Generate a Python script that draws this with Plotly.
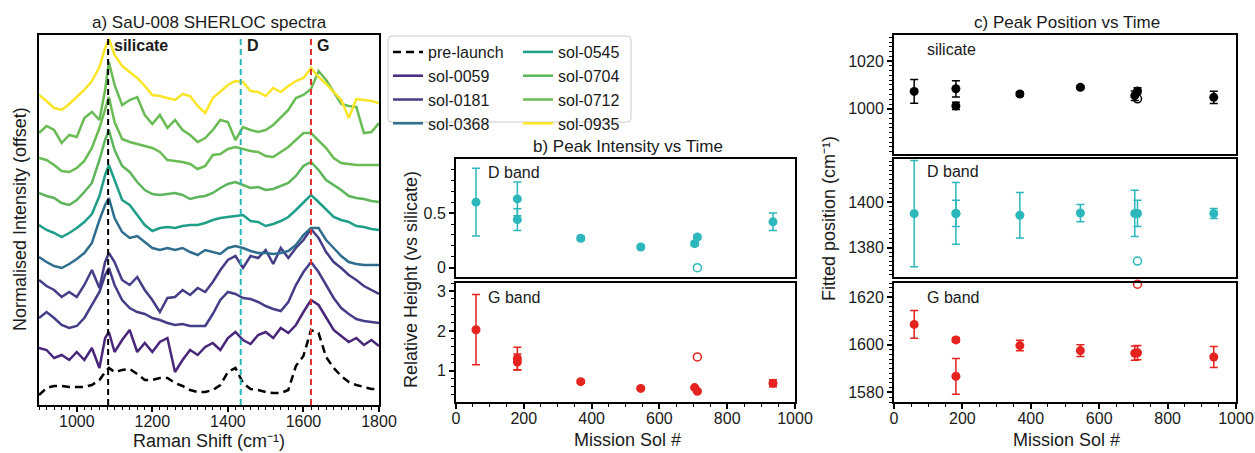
import plotly.graph_objects as go

W, H = 1255, 453

# ---------------- panel a: spectra (offset intensity, arbitrary units) ----------------
raman_shift = [900, 920, 940, 960, 980, 1000, 1020, 1040, 1060, 1075, 1085, 1100, 1120, 1140,
               1160, 1180, 1200, 1220, 1240, 1260, 1280, 1300, 1320, 1340, 1360, 1380, 1400,
               1420, 1440, 1460, 1480, 1500, 1520, 1540, 1560, 1580, 1600, 1620, 1640, 1660,
               1680, 1700, 1720, 1740, 1760, 1780, 1800]

pre_launch = [10, 17, 19, 19, 18, 18, 18, 20, 25, 33, 37, 33, 35, 36, 31, 25, 25, 27, 27, 22, 19, 15,
              13, 13, 15, 20, 33, 37, 22, 16, 15, 13, 12, 12, 15, 39, 49, 75, 72, 48, 37, 29, 23, 20,
              18, 16, 16]
sol_0059 = [57, 55, 47, 50, 45, 53, 45, 57, 37, 67, 73, 53, 65, 75, 53, 62, 53, 63, 67, 33, 45, 55,
            50, 58, 62, 55, 67, 73, 65, 61, 70, 73, 67, 77, 72, 80, 93, 105, 100, 87, 75, 69, 63, 67,
            60, 65, 59]
sol_0181_a = [87, 93, 87, 80, 77, 79, 87, 100, 113, 130, 137, 120, 105, 97, 93, 91, 87, 85, 82, 80,
              81, 79, 79, 79, 91, 105, 113, 111, 107, 106, 103, 99, 96, 94, 103, 120, 133, 143, 133,
              120, 107, 97, 91, 86, 84, 83, 82]
sol_0181_b = [125, 119, 115, 108, 113, 108, 120, 135, 117, 143, 152, 143, 125, 120, 128, 115, 105,
              93, 107, 108, 115, 110, 117, 113, 123, 135, 145, 149, 137, 149, 147, 155, 141, 157,
              147, 157, 165, 176, 167, 153, 143, 137, 130, 125, 119, 115, 111]
sol_0368 = [148, 143, 139, 137, 141, 146, 152, 162, 185, 200, 207, 187, 173, 167, 169, 163, 157, 155,
            157, 155, 157, 153, 150, 155, 153, 151, 157, 159, 157, 154, 152, 152, 151, 152, 154, 160,
            170, 177, 177, 165, 157, 149, 143, 141, 140, 140, 140]
sol_0545 = [180, 175, 172, 168, 172, 177, 183, 191, 209, 230, 240, 225, 205, 200, 190, 180, 174, 177,
            178, 177, 179, 180, 180, 182, 185, 187, 188, 189, 190, 184, 183, 179, 181, 184, 188, 195,
            202, 210, 203, 195, 188, 185, 183, 179, 178, 176, 175]
sol_0704 = [212, 209, 207, 202, 200, 205, 213, 222, 245, 265, 275, 255, 239, 233, 223, 215, 211, 210,
            211, 212, 210, 206, 208, 209, 212, 217, 221, 223, 220, 217, 218, 215, 216, 219, 222, 229,
            239, 243, 235, 225, 220, 215, 209, 207, 206, 204, 203]
sol_0712_a = [247, 245, 240, 234, 233, 237, 244, 257, 277, 295, 308, 283, 266, 263, 261, 259, 257,
              253, 245, 244, 243, 241, 236, 239, 250, 251, 256, 258, 256, 254, 253, 249, 248, 253,
              258, 265, 272, 272, 264, 257, 247, 242, 241, 240, 240, 240, 240]
sol_0712_b = [272, 279, 275, 262, 270, 268, 287, 293, 285, 315, 343, 320, 300, 305, 308, 290, 281,
              290, 277, 285, 275, 270, 263, 267, 275, 285, 283, 265, 278, 275, 273, 275, 280, 287,
              295, 307, 310, 316, 334, 325, 313, 301, 299, 298, 272, 273, 282]
sol_0935 = [310, 304, 297, 295, 301, 308, 315, 324, 338, 357, 366, 350, 339, 333, 327, 319, 310, 309,
            307, 305, 311, 309, 299, 292, 307, 314, 320, 324, 323, 314, 313, 309, 317, 313, 319, 324,
            327, 337, 328, 321, 313, 305, 287, 306, 305, 304, 302]

band_labels = ["silicate", "D", "G"]
band_centres = [1083, 1434, 1620]

# ---------------- panel b: peak intensity ----------------
intensity_sol = [59, 181, 181, 368, 545, 704, 712, 935]
d_height = [0.60, 0.63, 0.44, 0.27, 0.19, 0.22, 0.28, 0.42]
d_height_err = [0.31, 0.155, 0.10, 0.02, 0.015, 0.02, 0.02, 0.08]
g_height = [2.03, 1.31, 1.22, 0.73, 0.56, 0.58, 0.49, 0.69]
g_height_err = [0.88, 0.28, 0.20, 0.04, 0.03, 0.03, 0.03, 0.09]
open_sol = [712]
open_d_height = [0.0]
open_g_height = [1.35]

# ---------------- panel c: peak position ----------------
position_sol = [59, 181, 181, 368, 545, 704, 712, 935]
sil_pos = [1007.3, 1008.4, 1001.2, 1006.2, 1009.0, 1005.5, 1007.5, 1004.8]
sil_pos_err = [5.0, 3.4, 1.5, 0.8, 0.7, 2.0, 1.3, 2.6]
d_pos = [1394.9, 1395.0, 1395.0, 1394.2, 1395.2, 1395.0, 1395.0, 1395.0]
d_pos_err = [23.4, 13.6, 5.8, 10.0, 3.8, 10.2, 5.8, 2.2]
g_pos = [1608.6, 1602.1, 1586.8, 1599.7, 1597.6, 1596.5, 1596.7, 1594.9]
g_pos_err = [5.8, 1.0, 7.5, 2.2, 2.5, 3.0, 3.0, 4.4]
open_sil_pos = [1004.2]
open_d_pos = [1374.0]
open_g_pos = [1625.5]

# ---------------- styling ----------------
FONT = "Liberation Sans, Arial, sans-serif"
TXT = "#1a1a1a"
CYAN = "#2bb7bc"
RED = "#e5231f"


def fx(p):
    return p / W


def fy(p):
    return 1 - p / H


fig = go.Figure()

spectra = [
    ("pre-launch", pre_launch, "#000000", "legend", True, "8px,5px"),
    ("sol-0059", sol_0059, "#48277a", "legend", True, "solid"),
    ("sol-0181", sol_0181_a, "#443d87", "legend", True, "solid"),
    ("sol-0181", sol_0181_b, "#443d87", "legend", False, "solid"),
    ("sol-0368", sol_0368, "#2f6d8e", "legend", True, "solid"),
    ("sol-0545", sol_0545, "#1f9f88", "legend2", True, "solid"),
    ("sol-0704", sol_0704, "#5cb55a", "legend2", True, "solid"),
    ("sol-0712", sol_0712_a, "#69bb53", "legend2", True, "solid"),
    ("sol-0712", sol_0712_b, "#69bb53", "legend2", False, "solid"),
    ("sol-0935", sol_0935, "#f9e526", "legend2", True, "solid"),
]
for name, vals, col, leg, show, dash in spectra:
    fig.add_trace(go.Scatter(
        x=raman_shift, y=vals, mode="lines", name=name, legend=leg, showlegend=show,
        legendgroup=name, line=dict(color=col, width=2.5, dash=dash),
        xaxis="x", yaxis="y", hoverinfo="skip"))


def points(xs, ys, errs, col, xa, ya):
    fig.add_trace(go.Scatter(
        x=xs, y=ys, mode="markers", showlegend=False, xaxis=xa, yaxis=ya,
        marker=dict(color=col, size=9, line=dict(width=0)),
        error_y=dict(type="data", array=errs, color=col, thickness=1.5, width=4)))


def open_points(xs, ys, col, xa, ya):
    fig.add_trace(go.Scatter(
        x=xs, y=ys, mode="markers", showlegend=False, xaxis=xa, yaxis=ya, cliponaxis=False,
        marker=dict(symbol="circle-open", color=col, size=8, line=dict(width=1.5, color=col))))


points(intensity_sol, d_height, d_height_err, CYAN, "x2", "y2")
open_points(open_sol, open_d_height, CYAN, "x2", "y2")
points(intensity_sol, g_height, g_height_err, RED, "x3", "y3")
open_points(open_sol, open_g_height, RED, "x3", "y3")

points(position_sol, sil_pos, sil_pos_err, "#000000", "x4", "y4")
open_points(open_sol, open_sil_pos, "#000000", "x4", "y4")
points(position_sol, d_pos, d_pos_err, CYAN, "x5", "y5")
open_points(open_sol, open_d_pos, CYAN, "x5", "y5")
points(position_sol, g_pos, g_pos_err, RED, "x6", "y6")
open_points(open_sol, open_g_pos, RED, "x6", "y6")


def axis(domain, rng, anchor, show_ticks=True, **kw):
    d = dict(domain=domain, range=rng, anchor=anchor, showline=True, mirror=True,
             linecolor="black", linewidth=2, showgrid=False, zeroline=False,
             tickfont=dict(size=16, color=TXT, family=FONT), tickcolor="black")
    if show_ticks:
        d.update(ticks="outside", ticklen=5, tickwidth=1.5)
    else:
        d.update(ticks="", showticklabels=False)
    d.update(kw)
    return d


def minor(dt):
    return dict(dtick=dt, ticks="outside", ticklen=3, tickwidth=1.2, tickcolor="black")


xa_dom = [fx(39), fx(379)]
xb_dom = [fx(456), fx(795)]
xc_dom = [fx(894), fx(1236)]

layout_axes = dict(
    xaxis=axis(xa_dom, [900, 1800], "y", tickvals=[1000, 1200, 1400, 1600, 1800], minor=minor(20),
               ticklabelstandoff=-4),
    yaxis=axis([fy(405), fy(35)], [0, 370], "x", show_ticks=False),
    xaxis2=axis(xb_dom, [0, 1000], "y2", show_ticks=False),
    yaxis2=axis([fy(277), fy(159)], [-0.085, 0.995], "x2", dtick=0.5, tick0=0, minor=minor(0.1)),
    xaxis3=axis(xb_dom, [0, 1000], "y3", dtick=200, tick0=0, minor=minor(50), ticklabelstandoff=-4),
    yaxis3=axis([fy(402), fy(283)], [0.22, 3.2], "x3", dtick=1, tick0=0, minor=minor(0.2)),
    xaxis4=axis(xc_dom, [0, 1000], "y4", show_ticks=False),
    yaxis4=axis([fy(154), fy(35)], [981, 1031], "x4", dtick=20, tick0=0, minor=minor(2)),
    xaxis5=axis(xc_dom, [0, 1000], "y5", show_ticks=False),
    yaxis5=axis([fy(277), fy(159)], [1367, 1419], "x5", dtick=20, tick0=0, minor=minor(2)),
    xaxis6=axis(xc_dom, [0, 1000], "y6", dtick=200, tick0=0, minor=minor(50), ticklabelstandoff=-4),
    yaxis6=axis([fy(402), fy(283)], [1576, 1626], "x6", dtick=20, tick0=0, minor=minor(2)),
)

annotations = []


def text(t, x, y, size=16, angle=0, xanchor="center", bold=False):
    annotations.append(dict(
        text=f"<b>{t}</b>" if bold else t, x=fx(x), y=fy(y), xref="paper", yref="paper",
        showarrow=False, textangle=angle, xanchor=xanchor, yanchor="middle",
        font=dict(size=size, color=TXT, family=FONT)))


text("a) SaU-008 SHERLOC spectra", 209, 22, 17)
text("b) Peak Intensity vs Time", 628, 146, 17)
text("c) Peak Position vs Time", 1067, 22, 17)
text("Raman Shift (cm⁻¹)", 209, 441, 18)
text("Mission Sol #", 627, 440, 18)
text("Mission Sol #", 1066, 440, 18)
text("Normalised Intensity (offset)", 20, 219, 18, angle=-90)
text("Relative Height (vs silicate)", 411, 280, 18, angle=-90)
text("Fitted position (cm⁻¹)", 829, 218, 18, angle=-90)
text("D band", 486, 173, 16, xanchor="left")
text("G band", 486, 297, 16, xanchor="left")
text("silicate", 925, 49, 16, xanchor="left")
text("D band", 925, 172, 16, xanchor="left")
text("G band", 925, 297, 16, xanchor="left")

# band labels in panel a
for lab, pos in zip(band_labels, band_centres):
    annotations.append(dict(
        text=f"<b>{lab}</b>", x=pos, y=fy(46), xref="x", yref="paper", xshift=4,
        showarrow=False, xanchor="left", yanchor="middle",
        font=dict(size=16, color=TXT, family=FONT)))

shapes = []
for pos, col in zip(band_centres, ["#000000", CYAN, "#e3302c"]):
    shapes.append(dict(type="line", xref="x", yref="y domain", x0=pos, x1=pos, y0=0, y1=1,
                       line=dict(color=col, width=2, dash="6px,4px")))

# rounded legend frame
x0, x1, y0, y1 = fx(388), fx(631), fy(122), fy(36)
rx, ry = 4 / W, 4 / H
path = (f"M {x0 + rx},{y1} L {x1 - rx},{y1} Q {x1},{y1} {x1},{y1 - ry} "
        f"L {x1},{y0 + ry} Q {x1},{y0} {x1 - rx},{y0} L {x0 + rx},{y0} "
        f"Q {x0},{y0} {x0},{y0 + ry} L {x0},{y1 - ry} Q {x0},{y1} {x0 + rx},{y1} Z")
shapes.append(dict(type="path", xref="paper", yref="paper", path=path,
                   line=dict(color="#cccccc", width=1), fillcolor="rgba(255,255,255,0.8)",
                   layer="below"))

legend_style = dict(yanchor="top", xanchor="left", bgcolor="rgba(0,0,0,0)", borderwidth=0,
                    font=dict(size=16, color=TXT, family=FONT), tracegroupgap=0,
                    itemwidth=30, traceorder="normal")

fig.update_layout(
    width=W, height=H, margin=dict(l=0, r=0, t=0, b=0, autoexpand=False),
    paper_bgcolor="white", plot_bgcolor="white",
    font=dict(family=FONT, color=TXT),
    legend=dict(x=fx(388), y=fy(35), **legend_style),
    legend2=dict(x=fx(518), y=fy(35), **legend_style),
    annotations=annotations, shapes=shapes, **layout_axes)

fig.write_html("out.html", config={"displayModeBar": False},
               post_script="document.body.style.margin='0';document.body.style.overflow='hidden';")
